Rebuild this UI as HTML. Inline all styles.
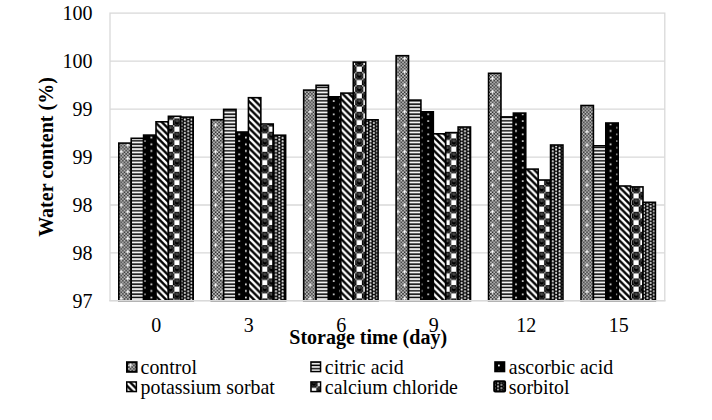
<!DOCTYPE html>
<html><head><meta charset="utf-8"><style>
html,body{margin:0;padding:0;background:#fff;}
body{width:712px;height:420px;overflow:hidden;}
svg{display:block;}
text{font-family:"Liberation Serif", serif;fill:#000;}
</style></head><body>
<svg width="712" height="420" viewBox="0 0 712 420">
<defs>

<pattern id="p1_0" patternUnits="userSpaceOnUse" width="13.3334" height="13.3334" x="-1.300" y="-0.200"><rect x="0.000" y="0.000" width="13.333" height="13.333" fill="#d8d8d8"/><rect x="0.000" y="0.000" width="1.667" height="1.667" fill="#222"/><rect x="3.333" y="0.000" width="1.667" height="1.667" fill="#222"/><rect x="6.667" y="0.000" width="1.667" height="1.667" fill="#222"/><rect x="10.000" y="0.000" width="1.667" height="1.667" fill="#222"/><rect x="1.667" y="1.667" width="1.667" height="1.667" fill="#222"/><rect x="5.000" y="1.667" width="1.667" height="1.667" fill="#222"/><rect x="8.333" y="1.667" width="1.667" height="1.667" fill="#222"/><rect x="11.667" y="1.667" width="1.667" height="1.667" fill="#222"/><rect x="0.000" y="3.333" width="1.667" height="1.667" fill="#222"/><rect x="3.333" y="3.333" width="1.667" height="1.667" fill="#222"/><rect x="6.667" y="3.333" width="1.667" height="1.667" fill="#222"/><rect x="10.000" y="3.333" width="1.667" height="1.667" fill="#222"/><rect x="1.667" y="5.000" width="1.667" height="1.667" fill="#222"/><rect x="5.000" y="5.000" width="1.667" height="1.667" fill="#222"/><rect x="8.333" y="5.000" width="1.667" height="1.667" fill="#222"/><rect x="11.667" y="5.000" width="1.667" height="1.667" fill="#222"/><rect x="0.000" y="6.667" width="1.667" height="1.667" fill="#222"/><rect x="3.333" y="6.667" width="1.667" height="1.667" fill="#222"/><rect x="6.667" y="6.667" width="1.667" height="1.667" fill="#222"/><rect x="10.000" y="6.667" width="1.667" height="1.667" fill="#222"/><rect x="1.667" y="8.333" width="1.667" height="1.667" fill="#222"/><rect x="5.000" y="8.333" width="1.667" height="1.667" fill="#222"/><rect x="8.333" y="8.333" width="1.667" height="1.667" fill="#222"/><rect x="11.667" y="8.333" width="1.667" height="1.667" fill="#222"/><rect x="0.000" y="10.000" width="1.667" height="1.667" fill="#222"/><rect x="3.333" y="10.000" width="1.667" height="1.667" fill="#222"/><rect x="6.667" y="10.000" width="1.667" height="1.667" fill="#222"/><rect x="10.000" y="10.000" width="1.667" height="1.667" fill="#222"/><rect x="1.667" y="11.667" width="1.667" height="1.667" fill="#222"/><rect x="5.000" y="11.667" width="1.667" height="1.667" fill="#222"/><rect x="8.333" y="11.667" width="1.667" height="1.667" fill="#222"/><rect x="11.667" y="11.667" width="1.667" height="1.667" fill="#222"/><rect x="2.000" y="3.300" width="1.000" height="3.400" fill="#fff"/><rect x="0.800" y="4.500" width="3.400" height="1.000" fill="#fff"/><rect x="2.000" y="-10.033" width="1.000" height="3.400" fill="#fff"/><rect x="0.800" y="-8.833" width="3.400" height="1.000" fill="#fff"/><rect x="2.000" y="16.633" width="1.000" height="3.400" fill="#fff"/><rect x="0.800" y="17.833" width="3.400" height="1.000" fill="#fff"/><rect x="-11.333" y="3.300" width="1.000" height="3.400" fill="#fff"/><rect x="-12.533" y="4.500" width="3.400" height="1.000" fill="#fff"/><rect x="-11.333" y="-10.033" width="1.000" height="3.400" fill="#fff"/><rect x="-12.533" y="-8.833" width="3.400" height="1.000" fill="#fff"/><rect x="-11.333" y="16.633" width="1.000" height="3.400" fill="#fff"/><rect x="-12.533" y="17.833" width="3.400" height="1.000" fill="#fff"/><rect x="15.333" y="3.300" width="1.000" height="3.400" fill="#fff"/><rect x="14.133" y="4.500" width="3.400" height="1.000" fill="#fff"/><rect x="15.333" y="-10.033" width="1.000" height="3.400" fill="#fff"/><rect x="14.133" y="-8.833" width="3.400" height="1.000" fill="#fff"/><rect x="15.333" y="16.633" width="1.000" height="3.400" fill="#fff"/><rect x="14.133" y="17.833" width="3.400" height="1.000" fill="#fff"/><rect x="8.667" y="9.967" width="1.000" height="3.400" fill="#fff"/><rect x="7.467" y="11.167" width="3.400" height="1.000" fill="#fff"/><rect x="8.667" y="-3.367" width="1.000" height="3.400" fill="#fff"/><rect x="7.467" y="-2.167" width="3.400" height="1.000" fill="#fff"/><rect x="8.667" y="23.300" width="1.000" height="3.400" fill="#fff"/><rect x="7.467" y="24.500" width="3.400" height="1.000" fill="#fff"/><rect x="-4.667" y="9.967" width="1.000" height="3.400" fill="#fff"/><rect x="-5.867" y="11.167" width="3.400" height="1.000" fill="#fff"/><rect x="-4.667" y="-3.367" width="1.000" height="3.400" fill="#fff"/><rect x="-5.867" y="-2.167" width="3.400" height="1.000" fill="#fff"/><rect x="-4.667" y="23.300" width="1.000" height="3.400" fill="#fff"/><rect x="-5.867" y="24.500" width="3.400" height="1.000" fill="#fff"/><rect x="22.000" y="9.967" width="1.000" height="3.400" fill="#fff"/><rect x="20.800" y="11.167" width="3.400" height="1.000" fill="#fff"/><rect x="22.000" y="-3.367" width="1.000" height="3.400" fill="#fff"/><rect x="20.800" y="-2.167" width="3.400" height="1.000" fill="#fff"/><rect x="22.000" y="23.300" width="1.000" height="3.400" fill="#fff"/><rect x="20.800" y="24.500" width="3.400" height="1.000" fill="#fff"/></pattern>
<pattern id="p5_0" patternUnits="userSpaceOnUse" width="13.3334" height="13.3334" x="0.500" y="-0.6"><rect x="0.000" y="0.000" width="13.333" height="13.333" fill="#000"/><rect x="0.383" y="7.150" width="5.300" height="5.300" fill="#fff"/><rect x="7.050" y="0.483" width="5.300" height="5.300" fill="#fff"/><circle cx="-0.150" cy="6.567" r="0.75" fill="#eee"/><circle cx="6.517" cy="6.567" r="0.75" fill="#eee"/><circle cx="-0.150" cy="13.233" r="0.75" fill="#eee"/><circle cx="6.517" cy="13.233" r="0.75" fill="#eee"/><circle cx="13.183" cy="6.567" r="0.75" fill="#eee"/><circle cx="13.183" cy="13.233" r="0.75" fill="#eee"/><circle cx="6.517" cy="-0.100" r="0.75" fill="#eee"/><circle cx="13.183" cy="-0.100" r="0.75" fill="#eee"/><circle cx="-0.150" cy="-0.100" r="0.75" fill="#eee"/><circle cx="3.133" cy="3.133" r="2.75" fill="none" stroke="#8a8a8a" stroke-width="0.5"/><rect x="2.033" y="1.433" width="2.400" height="0.900" fill="#aaa" rx="0.45"/><circle cx="9.800" cy="9.800" r="2.75" fill="none" stroke="#8a8a8a" stroke-width="0.5"/><rect x="8.700" y="8.100" width="2.400" height="0.900" fill="#aaa" rx="0.45"/></pattern>
<pattern id="p2_0" patternUnits="userSpaceOnUse" width="13.3333" height="3.33333" y="0.6">
<rect width="13.3333" height="3.33333" fill="#000"/>
<rect y="1.0" width="13.3333" height="1.8" fill="#fff"/>
</pattern>
<pattern id="p3_0" patternUnits="userSpaceOnUse" width="13.3333" height="6.66667" x="0.000">
<rect width="13.3333" height="6.66667" fill="#000"/>
<rect x="10.52" y="0.12" width="1.7" height="1.7" rx="0.6" fill="#fff"/>
<rect x="3.85" y="3.45" width="1.7" height="1.7" rx="0.6" fill="#fff"/>
</pattern>
<pattern id="p4_0" patternUnits="userSpaceOnUse" width="6.66667" height="6.66667" x="3.100">
<rect width="6.66667" height="6.66667" fill="#000"/>
<path d="M-2,-2 L8.67,8.67 M-8.67,-2 L2,8.67 M4.67,-2 L15.33,8.67" stroke="#fff" stroke-width="2.36"/>
</pattern>
<pattern id="p6_0" patternUnits="userSpaceOnUse" width="6.66667" height="3.33333" x="0.000">
<rect width="6.66667" height="3.33333" fill="#000"/>
<rect x="0.5" y="0.3" width="2.0" height="2.0" rx="0.7" fill="#f0f0f0"/>
<rect x="3.83" y="-1.37" width="2.0" height="2.0" rx="0.7" fill="#f0f0f0"/>
<rect x="3.83" y="1.97" width="2.0" height="2.0" rx="0.7" fill="#f0f0f0"/>
</pattern>
<pattern id="p1_1" patternUnits="userSpaceOnUse" width="13.3334" height="13.3334" x="-0.130" y="-0.200"><rect x="0.000" y="0.000" width="13.333" height="13.333" fill="#d8d8d8"/><rect x="0.000" y="0.000" width="1.667" height="1.667" fill="#222"/><rect x="3.333" y="0.000" width="1.667" height="1.667" fill="#222"/><rect x="6.667" y="0.000" width="1.667" height="1.667" fill="#222"/><rect x="10.000" y="0.000" width="1.667" height="1.667" fill="#222"/><rect x="1.667" y="1.667" width="1.667" height="1.667" fill="#222"/><rect x="5.000" y="1.667" width="1.667" height="1.667" fill="#222"/><rect x="8.333" y="1.667" width="1.667" height="1.667" fill="#222"/><rect x="11.667" y="1.667" width="1.667" height="1.667" fill="#222"/><rect x="0.000" y="3.333" width="1.667" height="1.667" fill="#222"/><rect x="3.333" y="3.333" width="1.667" height="1.667" fill="#222"/><rect x="6.667" y="3.333" width="1.667" height="1.667" fill="#222"/><rect x="10.000" y="3.333" width="1.667" height="1.667" fill="#222"/><rect x="1.667" y="5.000" width="1.667" height="1.667" fill="#222"/><rect x="5.000" y="5.000" width="1.667" height="1.667" fill="#222"/><rect x="8.333" y="5.000" width="1.667" height="1.667" fill="#222"/><rect x="11.667" y="5.000" width="1.667" height="1.667" fill="#222"/><rect x="0.000" y="6.667" width="1.667" height="1.667" fill="#222"/><rect x="3.333" y="6.667" width="1.667" height="1.667" fill="#222"/><rect x="6.667" y="6.667" width="1.667" height="1.667" fill="#222"/><rect x="10.000" y="6.667" width="1.667" height="1.667" fill="#222"/><rect x="1.667" y="8.333" width="1.667" height="1.667" fill="#222"/><rect x="5.000" y="8.333" width="1.667" height="1.667" fill="#222"/><rect x="8.333" y="8.333" width="1.667" height="1.667" fill="#222"/><rect x="11.667" y="8.333" width="1.667" height="1.667" fill="#222"/><rect x="0.000" y="10.000" width="1.667" height="1.667" fill="#222"/><rect x="3.333" y="10.000" width="1.667" height="1.667" fill="#222"/><rect x="6.667" y="10.000" width="1.667" height="1.667" fill="#222"/><rect x="10.000" y="10.000" width="1.667" height="1.667" fill="#222"/><rect x="1.667" y="11.667" width="1.667" height="1.667" fill="#222"/><rect x="5.000" y="11.667" width="1.667" height="1.667" fill="#222"/><rect x="8.333" y="11.667" width="1.667" height="1.667" fill="#222"/><rect x="11.667" y="11.667" width="1.667" height="1.667" fill="#222"/><rect x="2.000" y="3.300" width="1.000" height="3.400" fill="#fff"/><rect x="0.800" y="4.500" width="3.400" height="1.000" fill="#fff"/><rect x="2.000" y="-10.033" width="1.000" height="3.400" fill="#fff"/><rect x="0.800" y="-8.833" width="3.400" height="1.000" fill="#fff"/><rect x="2.000" y="16.633" width="1.000" height="3.400" fill="#fff"/><rect x="0.800" y="17.833" width="3.400" height="1.000" fill="#fff"/><rect x="-11.333" y="3.300" width="1.000" height="3.400" fill="#fff"/><rect x="-12.533" y="4.500" width="3.400" height="1.000" fill="#fff"/><rect x="-11.333" y="-10.033" width="1.000" height="3.400" fill="#fff"/><rect x="-12.533" y="-8.833" width="3.400" height="1.000" fill="#fff"/><rect x="-11.333" y="16.633" width="1.000" height="3.400" fill="#fff"/><rect x="-12.533" y="17.833" width="3.400" height="1.000" fill="#fff"/><rect x="15.333" y="3.300" width="1.000" height="3.400" fill="#fff"/><rect x="14.133" y="4.500" width="3.400" height="1.000" fill="#fff"/><rect x="15.333" y="-10.033" width="1.000" height="3.400" fill="#fff"/><rect x="14.133" y="-8.833" width="3.400" height="1.000" fill="#fff"/><rect x="15.333" y="16.633" width="1.000" height="3.400" fill="#fff"/><rect x="14.133" y="17.833" width="3.400" height="1.000" fill="#fff"/><rect x="8.667" y="9.967" width="1.000" height="3.400" fill="#fff"/><rect x="7.467" y="11.167" width="3.400" height="1.000" fill="#fff"/><rect x="8.667" y="-3.367" width="1.000" height="3.400" fill="#fff"/><rect x="7.467" y="-2.167" width="3.400" height="1.000" fill="#fff"/><rect x="8.667" y="23.300" width="1.000" height="3.400" fill="#fff"/><rect x="7.467" y="24.500" width="3.400" height="1.000" fill="#fff"/><rect x="-4.667" y="9.967" width="1.000" height="3.400" fill="#fff"/><rect x="-5.867" y="11.167" width="3.400" height="1.000" fill="#fff"/><rect x="-4.667" y="-3.367" width="1.000" height="3.400" fill="#fff"/><rect x="-5.867" y="-2.167" width="3.400" height="1.000" fill="#fff"/><rect x="-4.667" y="23.300" width="1.000" height="3.400" fill="#fff"/><rect x="-5.867" y="24.500" width="3.400" height="1.000" fill="#fff"/><rect x="22.000" y="9.967" width="1.000" height="3.400" fill="#fff"/><rect x="20.800" y="11.167" width="3.400" height="1.000" fill="#fff"/><rect x="22.000" y="-3.367" width="1.000" height="3.400" fill="#fff"/><rect x="20.800" y="-2.167" width="3.400" height="1.000" fill="#fff"/><rect x="22.000" y="23.300" width="1.000" height="3.400" fill="#fff"/><rect x="20.800" y="24.500" width="3.400" height="1.000" fill="#fff"/></pattern>
<pattern id="p5_1" patternUnits="userSpaceOnUse" width="13.3334" height="13.3334" x="1.670" y="-0.6"><rect x="0.000" y="0.000" width="13.333" height="13.333" fill="#000"/><rect x="0.383" y="7.150" width="5.300" height="5.300" fill="#fff"/><rect x="7.050" y="0.483" width="5.300" height="5.300" fill="#fff"/><circle cx="-0.150" cy="6.567" r="0.75" fill="#eee"/><circle cx="6.517" cy="6.567" r="0.75" fill="#eee"/><circle cx="-0.150" cy="13.233" r="0.75" fill="#eee"/><circle cx="6.517" cy="13.233" r="0.75" fill="#eee"/><circle cx="13.183" cy="6.567" r="0.75" fill="#eee"/><circle cx="13.183" cy="13.233" r="0.75" fill="#eee"/><circle cx="6.517" cy="-0.100" r="0.75" fill="#eee"/><circle cx="13.183" cy="-0.100" r="0.75" fill="#eee"/><circle cx="-0.150" cy="-0.100" r="0.75" fill="#eee"/><circle cx="3.133" cy="3.133" r="2.75" fill="none" stroke="#8a8a8a" stroke-width="0.5"/><rect x="2.033" y="1.433" width="2.400" height="0.900" fill="#aaa" rx="0.45"/><circle cx="9.800" cy="9.800" r="2.75" fill="none" stroke="#8a8a8a" stroke-width="0.5"/><rect x="8.700" y="8.100" width="2.400" height="0.900" fill="#aaa" rx="0.45"/></pattern>
<pattern id="p2_1" patternUnits="userSpaceOnUse" width="13.3333" height="3.33333" y="0.6">
<rect width="13.3333" height="3.33333" fill="#000"/>
<rect y="1.0" width="13.3333" height="1.8" fill="#fff"/>
</pattern>
<pattern id="p3_1" patternUnits="userSpaceOnUse" width="13.3333" height="6.66667" x="1.170">
<rect width="13.3333" height="6.66667" fill="#000"/>
<rect x="10.52" y="0.12" width="1.7" height="1.7" rx="0.6" fill="#fff"/>
<rect x="3.85" y="3.45" width="1.7" height="1.7" rx="0.6" fill="#fff"/>
</pattern>
<pattern id="p4_1" patternUnits="userSpaceOnUse" width="6.66667" height="6.66667" x="4.270">
<rect width="6.66667" height="6.66667" fill="#000"/>
<path d="M-2,-2 L8.67,8.67 M-8.67,-2 L2,8.67 M4.67,-2 L15.33,8.67" stroke="#fff" stroke-width="2.36"/>
</pattern>
<pattern id="p6_1" patternUnits="userSpaceOnUse" width="6.66667" height="3.33333" x="1.170">
<rect width="6.66667" height="3.33333" fill="#000"/>
<rect x="0.5" y="0.3" width="2.0" height="2.0" rx="0.7" fill="#f0f0f0"/>
<rect x="3.83" y="-1.37" width="2.0" height="2.0" rx="0.7" fill="#f0f0f0"/>
<rect x="3.83" y="1.97" width="2.0" height="2.0" rx="0.7" fill="#f0f0f0"/>
</pattern>
<pattern id="p1_2" patternUnits="userSpaceOnUse" width="13.3334" height="13.3334" x="1.040" y="-0.200"><rect x="0.000" y="0.000" width="13.333" height="13.333" fill="#d8d8d8"/><rect x="0.000" y="0.000" width="1.667" height="1.667" fill="#222"/><rect x="3.333" y="0.000" width="1.667" height="1.667" fill="#222"/><rect x="6.667" y="0.000" width="1.667" height="1.667" fill="#222"/><rect x="10.000" y="0.000" width="1.667" height="1.667" fill="#222"/><rect x="1.667" y="1.667" width="1.667" height="1.667" fill="#222"/><rect x="5.000" y="1.667" width="1.667" height="1.667" fill="#222"/><rect x="8.333" y="1.667" width="1.667" height="1.667" fill="#222"/><rect x="11.667" y="1.667" width="1.667" height="1.667" fill="#222"/><rect x="0.000" y="3.333" width="1.667" height="1.667" fill="#222"/><rect x="3.333" y="3.333" width="1.667" height="1.667" fill="#222"/><rect x="6.667" y="3.333" width="1.667" height="1.667" fill="#222"/><rect x="10.000" y="3.333" width="1.667" height="1.667" fill="#222"/><rect x="1.667" y="5.000" width="1.667" height="1.667" fill="#222"/><rect x="5.000" y="5.000" width="1.667" height="1.667" fill="#222"/><rect x="8.333" y="5.000" width="1.667" height="1.667" fill="#222"/><rect x="11.667" y="5.000" width="1.667" height="1.667" fill="#222"/><rect x="0.000" y="6.667" width="1.667" height="1.667" fill="#222"/><rect x="3.333" y="6.667" width="1.667" height="1.667" fill="#222"/><rect x="6.667" y="6.667" width="1.667" height="1.667" fill="#222"/><rect x="10.000" y="6.667" width="1.667" height="1.667" fill="#222"/><rect x="1.667" y="8.333" width="1.667" height="1.667" fill="#222"/><rect x="5.000" y="8.333" width="1.667" height="1.667" fill="#222"/><rect x="8.333" y="8.333" width="1.667" height="1.667" fill="#222"/><rect x="11.667" y="8.333" width="1.667" height="1.667" fill="#222"/><rect x="0.000" y="10.000" width="1.667" height="1.667" fill="#222"/><rect x="3.333" y="10.000" width="1.667" height="1.667" fill="#222"/><rect x="6.667" y="10.000" width="1.667" height="1.667" fill="#222"/><rect x="10.000" y="10.000" width="1.667" height="1.667" fill="#222"/><rect x="1.667" y="11.667" width="1.667" height="1.667" fill="#222"/><rect x="5.000" y="11.667" width="1.667" height="1.667" fill="#222"/><rect x="8.333" y="11.667" width="1.667" height="1.667" fill="#222"/><rect x="11.667" y="11.667" width="1.667" height="1.667" fill="#222"/><rect x="2.000" y="3.300" width="1.000" height="3.400" fill="#fff"/><rect x="0.800" y="4.500" width="3.400" height="1.000" fill="#fff"/><rect x="2.000" y="-10.033" width="1.000" height="3.400" fill="#fff"/><rect x="0.800" y="-8.833" width="3.400" height="1.000" fill="#fff"/><rect x="2.000" y="16.633" width="1.000" height="3.400" fill="#fff"/><rect x="0.800" y="17.833" width="3.400" height="1.000" fill="#fff"/><rect x="-11.333" y="3.300" width="1.000" height="3.400" fill="#fff"/><rect x="-12.533" y="4.500" width="3.400" height="1.000" fill="#fff"/><rect x="-11.333" y="-10.033" width="1.000" height="3.400" fill="#fff"/><rect x="-12.533" y="-8.833" width="3.400" height="1.000" fill="#fff"/><rect x="-11.333" y="16.633" width="1.000" height="3.400" fill="#fff"/><rect x="-12.533" y="17.833" width="3.400" height="1.000" fill="#fff"/><rect x="15.333" y="3.300" width="1.000" height="3.400" fill="#fff"/><rect x="14.133" y="4.500" width="3.400" height="1.000" fill="#fff"/><rect x="15.333" y="-10.033" width="1.000" height="3.400" fill="#fff"/><rect x="14.133" y="-8.833" width="3.400" height="1.000" fill="#fff"/><rect x="15.333" y="16.633" width="1.000" height="3.400" fill="#fff"/><rect x="14.133" y="17.833" width="3.400" height="1.000" fill="#fff"/><rect x="8.667" y="9.967" width="1.000" height="3.400" fill="#fff"/><rect x="7.467" y="11.167" width="3.400" height="1.000" fill="#fff"/><rect x="8.667" y="-3.367" width="1.000" height="3.400" fill="#fff"/><rect x="7.467" y="-2.167" width="3.400" height="1.000" fill="#fff"/><rect x="8.667" y="23.300" width="1.000" height="3.400" fill="#fff"/><rect x="7.467" y="24.500" width="3.400" height="1.000" fill="#fff"/><rect x="-4.667" y="9.967" width="1.000" height="3.400" fill="#fff"/><rect x="-5.867" y="11.167" width="3.400" height="1.000" fill="#fff"/><rect x="-4.667" y="-3.367" width="1.000" height="3.400" fill="#fff"/><rect x="-5.867" y="-2.167" width="3.400" height="1.000" fill="#fff"/><rect x="-4.667" y="23.300" width="1.000" height="3.400" fill="#fff"/><rect x="-5.867" y="24.500" width="3.400" height="1.000" fill="#fff"/><rect x="22.000" y="9.967" width="1.000" height="3.400" fill="#fff"/><rect x="20.800" y="11.167" width="3.400" height="1.000" fill="#fff"/><rect x="22.000" y="-3.367" width="1.000" height="3.400" fill="#fff"/><rect x="20.800" y="-2.167" width="3.400" height="1.000" fill="#fff"/><rect x="22.000" y="23.300" width="1.000" height="3.400" fill="#fff"/><rect x="20.800" y="24.500" width="3.400" height="1.000" fill="#fff"/></pattern>
<pattern id="p5_2" patternUnits="userSpaceOnUse" width="13.3334" height="13.3334" x="2.840" y="-0.6"><rect x="0.000" y="0.000" width="13.333" height="13.333" fill="#000"/><rect x="0.383" y="7.150" width="5.300" height="5.300" fill="#fff"/><rect x="7.050" y="0.483" width="5.300" height="5.300" fill="#fff"/><circle cx="-0.150" cy="6.567" r="0.75" fill="#eee"/><circle cx="6.517" cy="6.567" r="0.75" fill="#eee"/><circle cx="-0.150" cy="13.233" r="0.75" fill="#eee"/><circle cx="6.517" cy="13.233" r="0.75" fill="#eee"/><circle cx="13.183" cy="6.567" r="0.75" fill="#eee"/><circle cx="13.183" cy="13.233" r="0.75" fill="#eee"/><circle cx="6.517" cy="-0.100" r="0.75" fill="#eee"/><circle cx="13.183" cy="-0.100" r="0.75" fill="#eee"/><circle cx="-0.150" cy="-0.100" r="0.75" fill="#eee"/><circle cx="3.133" cy="3.133" r="2.75" fill="none" stroke="#8a8a8a" stroke-width="0.5"/><rect x="2.033" y="1.433" width="2.400" height="0.900" fill="#aaa" rx="0.45"/><circle cx="9.800" cy="9.800" r="2.75" fill="none" stroke="#8a8a8a" stroke-width="0.5"/><rect x="8.700" y="8.100" width="2.400" height="0.900" fill="#aaa" rx="0.45"/></pattern>
<pattern id="p2_2" patternUnits="userSpaceOnUse" width="13.3333" height="3.33333" y="0.6">
<rect width="13.3333" height="3.33333" fill="#000"/>
<rect y="1.0" width="13.3333" height="1.8" fill="#fff"/>
</pattern>
<pattern id="p3_2" patternUnits="userSpaceOnUse" width="13.3333" height="6.66667" x="2.340">
<rect width="13.3333" height="6.66667" fill="#000"/>
<rect x="10.52" y="0.12" width="1.7" height="1.7" rx="0.6" fill="#fff"/>
<rect x="3.85" y="3.45" width="1.7" height="1.7" rx="0.6" fill="#fff"/>
</pattern>
<pattern id="p4_2" patternUnits="userSpaceOnUse" width="6.66667" height="6.66667" x="5.440">
<rect width="6.66667" height="6.66667" fill="#000"/>
<path d="M-2,-2 L8.67,8.67 M-8.67,-2 L2,8.67 M4.67,-2 L15.33,8.67" stroke="#fff" stroke-width="2.36"/>
</pattern>
<pattern id="p6_2" patternUnits="userSpaceOnUse" width="6.66667" height="3.33333" x="2.340">
<rect width="6.66667" height="3.33333" fill="#000"/>
<rect x="0.5" y="0.3" width="2.0" height="2.0" rx="0.7" fill="#f0f0f0"/>
<rect x="3.83" y="-1.37" width="2.0" height="2.0" rx="0.7" fill="#f0f0f0"/>
<rect x="3.83" y="1.97" width="2.0" height="2.0" rx="0.7" fill="#f0f0f0"/>
</pattern>
<pattern id="p1_3" patternUnits="userSpaceOnUse" width="13.3334" height="13.3334" x="2.210" y="-0.200"><rect x="0.000" y="0.000" width="13.333" height="13.333" fill="#d8d8d8"/><rect x="0.000" y="0.000" width="1.667" height="1.667" fill="#222"/><rect x="3.333" y="0.000" width="1.667" height="1.667" fill="#222"/><rect x="6.667" y="0.000" width="1.667" height="1.667" fill="#222"/><rect x="10.000" y="0.000" width="1.667" height="1.667" fill="#222"/><rect x="1.667" y="1.667" width="1.667" height="1.667" fill="#222"/><rect x="5.000" y="1.667" width="1.667" height="1.667" fill="#222"/><rect x="8.333" y="1.667" width="1.667" height="1.667" fill="#222"/><rect x="11.667" y="1.667" width="1.667" height="1.667" fill="#222"/><rect x="0.000" y="3.333" width="1.667" height="1.667" fill="#222"/><rect x="3.333" y="3.333" width="1.667" height="1.667" fill="#222"/><rect x="6.667" y="3.333" width="1.667" height="1.667" fill="#222"/><rect x="10.000" y="3.333" width="1.667" height="1.667" fill="#222"/><rect x="1.667" y="5.000" width="1.667" height="1.667" fill="#222"/><rect x="5.000" y="5.000" width="1.667" height="1.667" fill="#222"/><rect x="8.333" y="5.000" width="1.667" height="1.667" fill="#222"/><rect x="11.667" y="5.000" width="1.667" height="1.667" fill="#222"/><rect x="0.000" y="6.667" width="1.667" height="1.667" fill="#222"/><rect x="3.333" y="6.667" width="1.667" height="1.667" fill="#222"/><rect x="6.667" y="6.667" width="1.667" height="1.667" fill="#222"/><rect x="10.000" y="6.667" width="1.667" height="1.667" fill="#222"/><rect x="1.667" y="8.333" width="1.667" height="1.667" fill="#222"/><rect x="5.000" y="8.333" width="1.667" height="1.667" fill="#222"/><rect x="8.333" y="8.333" width="1.667" height="1.667" fill="#222"/><rect x="11.667" y="8.333" width="1.667" height="1.667" fill="#222"/><rect x="0.000" y="10.000" width="1.667" height="1.667" fill="#222"/><rect x="3.333" y="10.000" width="1.667" height="1.667" fill="#222"/><rect x="6.667" y="10.000" width="1.667" height="1.667" fill="#222"/><rect x="10.000" y="10.000" width="1.667" height="1.667" fill="#222"/><rect x="1.667" y="11.667" width="1.667" height="1.667" fill="#222"/><rect x="5.000" y="11.667" width="1.667" height="1.667" fill="#222"/><rect x="8.333" y="11.667" width="1.667" height="1.667" fill="#222"/><rect x="11.667" y="11.667" width="1.667" height="1.667" fill="#222"/><rect x="2.000" y="3.300" width="1.000" height="3.400" fill="#fff"/><rect x="0.800" y="4.500" width="3.400" height="1.000" fill="#fff"/><rect x="2.000" y="-10.033" width="1.000" height="3.400" fill="#fff"/><rect x="0.800" y="-8.833" width="3.400" height="1.000" fill="#fff"/><rect x="2.000" y="16.633" width="1.000" height="3.400" fill="#fff"/><rect x="0.800" y="17.833" width="3.400" height="1.000" fill="#fff"/><rect x="-11.333" y="3.300" width="1.000" height="3.400" fill="#fff"/><rect x="-12.533" y="4.500" width="3.400" height="1.000" fill="#fff"/><rect x="-11.333" y="-10.033" width="1.000" height="3.400" fill="#fff"/><rect x="-12.533" y="-8.833" width="3.400" height="1.000" fill="#fff"/><rect x="-11.333" y="16.633" width="1.000" height="3.400" fill="#fff"/><rect x="-12.533" y="17.833" width="3.400" height="1.000" fill="#fff"/><rect x="15.333" y="3.300" width="1.000" height="3.400" fill="#fff"/><rect x="14.133" y="4.500" width="3.400" height="1.000" fill="#fff"/><rect x="15.333" y="-10.033" width="1.000" height="3.400" fill="#fff"/><rect x="14.133" y="-8.833" width="3.400" height="1.000" fill="#fff"/><rect x="15.333" y="16.633" width="1.000" height="3.400" fill="#fff"/><rect x="14.133" y="17.833" width="3.400" height="1.000" fill="#fff"/><rect x="8.667" y="9.967" width="1.000" height="3.400" fill="#fff"/><rect x="7.467" y="11.167" width="3.400" height="1.000" fill="#fff"/><rect x="8.667" y="-3.367" width="1.000" height="3.400" fill="#fff"/><rect x="7.467" y="-2.167" width="3.400" height="1.000" fill="#fff"/><rect x="8.667" y="23.300" width="1.000" height="3.400" fill="#fff"/><rect x="7.467" y="24.500" width="3.400" height="1.000" fill="#fff"/><rect x="-4.667" y="9.967" width="1.000" height="3.400" fill="#fff"/><rect x="-5.867" y="11.167" width="3.400" height="1.000" fill="#fff"/><rect x="-4.667" y="-3.367" width="1.000" height="3.400" fill="#fff"/><rect x="-5.867" y="-2.167" width="3.400" height="1.000" fill="#fff"/><rect x="-4.667" y="23.300" width="1.000" height="3.400" fill="#fff"/><rect x="-5.867" y="24.500" width="3.400" height="1.000" fill="#fff"/><rect x="22.000" y="9.967" width="1.000" height="3.400" fill="#fff"/><rect x="20.800" y="11.167" width="3.400" height="1.000" fill="#fff"/><rect x="22.000" y="-3.367" width="1.000" height="3.400" fill="#fff"/><rect x="20.800" y="-2.167" width="3.400" height="1.000" fill="#fff"/><rect x="22.000" y="23.300" width="1.000" height="3.400" fill="#fff"/><rect x="20.800" y="24.500" width="3.400" height="1.000" fill="#fff"/></pattern>
<pattern id="p5_3" patternUnits="userSpaceOnUse" width="13.3334" height="13.3334" x="4.010" y="-0.6"><rect x="0.000" y="0.000" width="13.333" height="13.333" fill="#000"/><rect x="0.383" y="7.150" width="5.300" height="5.300" fill="#fff"/><rect x="7.050" y="0.483" width="5.300" height="5.300" fill="#fff"/><circle cx="-0.150" cy="6.567" r="0.75" fill="#eee"/><circle cx="6.517" cy="6.567" r="0.75" fill="#eee"/><circle cx="-0.150" cy="13.233" r="0.75" fill="#eee"/><circle cx="6.517" cy="13.233" r="0.75" fill="#eee"/><circle cx="13.183" cy="6.567" r="0.75" fill="#eee"/><circle cx="13.183" cy="13.233" r="0.75" fill="#eee"/><circle cx="6.517" cy="-0.100" r="0.75" fill="#eee"/><circle cx="13.183" cy="-0.100" r="0.75" fill="#eee"/><circle cx="-0.150" cy="-0.100" r="0.75" fill="#eee"/><circle cx="3.133" cy="3.133" r="2.75" fill="none" stroke="#8a8a8a" stroke-width="0.5"/><rect x="2.033" y="1.433" width="2.400" height="0.900" fill="#aaa" rx="0.45"/><circle cx="9.800" cy="9.800" r="2.75" fill="none" stroke="#8a8a8a" stroke-width="0.5"/><rect x="8.700" y="8.100" width="2.400" height="0.900" fill="#aaa" rx="0.45"/></pattern>
<pattern id="p2_3" patternUnits="userSpaceOnUse" width="13.3333" height="3.33333" y="0.6">
<rect width="13.3333" height="3.33333" fill="#000"/>
<rect y="1.0" width="13.3333" height="1.8" fill="#fff"/>
</pattern>
<pattern id="p3_3" patternUnits="userSpaceOnUse" width="13.3333" height="6.66667" x="3.510">
<rect width="13.3333" height="6.66667" fill="#000"/>
<rect x="10.52" y="0.12" width="1.7" height="1.7" rx="0.6" fill="#fff"/>
<rect x="3.85" y="3.45" width="1.7" height="1.7" rx="0.6" fill="#fff"/>
</pattern>
<pattern id="p4_3" patternUnits="userSpaceOnUse" width="6.66667" height="6.66667" x="6.610">
<rect width="6.66667" height="6.66667" fill="#000"/>
<path d="M-2,-2 L8.67,8.67 M-8.67,-2 L2,8.67 M4.67,-2 L15.33,8.67" stroke="#fff" stroke-width="2.36"/>
</pattern>
<pattern id="p6_3" patternUnits="userSpaceOnUse" width="6.66667" height="3.33333" x="3.510">
<rect width="6.66667" height="3.33333" fill="#000"/>
<rect x="0.5" y="0.3" width="2.0" height="2.0" rx="0.7" fill="#f0f0f0"/>
<rect x="3.83" y="-1.37" width="2.0" height="2.0" rx="0.7" fill="#f0f0f0"/>
<rect x="3.83" y="1.97" width="2.0" height="2.0" rx="0.7" fill="#f0f0f0"/>
</pattern>
<pattern id="p1_4" patternUnits="userSpaceOnUse" width="13.3334" height="13.3334" x="3.380" y="-0.200"><rect x="0.000" y="0.000" width="13.333" height="13.333" fill="#d8d8d8"/><rect x="0.000" y="0.000" width="1.667" height="1.667" fill="#222"/><rect x="3.333" y="0.000" width="1.667" height="1.667" fill="#222"/><rect x="6.667" y="0.000" width="1.667" height="1.667" fill="#222"/><rect x="10.000" y="0.000" width="1.667" height="1.667" fill="#222"/><rect x="1.667" y="1.667" width="1.667" height="1.667" fill="#222"/><rect x="5.000" y="1.667" width="1.667" height="1.667" fill="#222"/><rect x="8.333" y="1.667" width="1.667" height="1.667" fill="#222"/><rect x="11.667" y="1.667" width="1.667" height="1.667" fill="#222"/><rect x="0.000" y="3.333" width="1.667" height="1.667" fill="#222"/><rect x="3.333" y="3.333" width="1.667" height="1.667" fill="#222"/><rect x="6.667" y="3.333" width="1.667" height="1.667" fill="#222"/><rect x="10.000" y="3.333" width="1.667" height="1.667" fill="#222"/><rect x="1.667" y="5.000" width="1.667" height="1.667" fill="#222"/><rect x="5.000" y="5.000" width="1.667" height="1.667" fill="#222"/><rect x="8.333" y="5.000" width="1.667" height="1.667" fill="#222"/><rect x="11.667" y="5.000" width="1.667" height="1.667" fill="#222"/><rect x="0.000" y="6.667" width="1.667" height="1.667" fill="#222"/><rect x="3.333" y="6.667" width="1.667" height="1.667" fill="#222"/><rect x="6.667" y="6.667" width="1.667" height="1.667" fill="#222"/><rect x="10.000" y="6.667" width="1.667" height="1.667" fill="#222"/><rect x="1.667" y="8.333" width="1.667" height="1.667" fill="#222"/><rect x="5.000" y="8.333" width="1.667" height="1.667" fill="#222"/><rect x="8.333" y="8.333" width="1.667" height="1.667" fill="#222"/><rect x="11.667" y="8.333" width="1.667" height="1.667" fill="#222"/><rect x="0.000" y="10.000" width="1.667" height="1.667" fill="#222"/><rect x="3.333" y="10.000" width="1.667" height="1.667" fill="#222"/><rect x="6.667" y="10.000" width="1.667" height="1.667" fill="#222"/><rect x="10.000" y="10.000" width="1.667" height="1.667" fill="#222"/><rect x="1.667" y="11.667" width="1.667" height="1.667" fill="#222"/><rect x="5.000" y="11.667" width="1.667" height="1.667" fill="#222"/><rect x="8.333" y="11.667" width="1.667" height="1.667" fill="#222"/><rect x="11.667" y="11.667" width="1.667" height="1.667" fill="#222"/><rect x="2.000" y="3.300" width="1.000" height="3.400" fill="#fff"/><rect x="0.800" y="4.500" width="3.400" height="1.000" fill="#fff"/><rect x="2.000" y="-10.033" width="1.000" height="3.400" fill="#fff"/><rect x="0.800" y="-8.833" width="3.400" height="1.000" fill="#fff"/><rect x="2.000" y="16.633" width="1.000" height="3.400" fill="#fff"/><rect x="0.800" y="17.833" width="3.400" height="1.000" fill="#fff"/><rect x="-11.333" y="3.300" width="1.000" height="3.400" fill="#fff"/><rect x="-12.533" y="4.500" width="3.400" height="1.000" fill="#fff"/><rect x="-11.333" y="-10.033" width="1.000" height="3.400" fill="#fff"/><rect x="-12.533" y="-8.833" width="3.400" height="1.000" fill="#fff"/><rect x="-11.333" y="16.633" width="1.000" height="3.400" fill="#fff"/><rect x="-12.533" y="17.833" width="3.400" height="1.000" fill="#fff"/><rect x="15.333" y="3.300" width="1.000" height="3.400" fill="#fff"/><rect x="14.133" y="4.500" width="3.400" height="1.000" fill="#fff"/><rect x="15.333" y="-10.033" width="1.000" height="3.400" fill="#fff"/><rect x="14.133" y="-8.833" width="3.400" height="1.000" fill="#fff"/><rect x="15.333" y="16.633" width="1.000" height="3.400" fill="#fff"/><rect x="14.133" y="17.833" width="3.400" height="1.000" fill="#fff"/><rect x="8.667" y="9.967" width="1.000" height="3.400" fill="#fff"/><rect x="7.467" y="11.167" width="3.400" height="1.000" fill="#fff"/><rect x="8.667" y="-3.367" width="1.000" height="3.400" fill="#fff"/><rect x="7.467" y="-2.167" width="3.400" height="1.000" fill="#fff"/><rect x="8.667" y="23.300" width="1.000" height="3.400" fill="#fff"/><rect x="7.467" y="24.500" width="3.400" height="1.000" fill="#fff"/><rect x="-4.667" y="9.967" width="1.000" height="3.400" fill="#fff"/><rect x="-5.867" y="11.167" width="3.400" height="1.000" fill="#fff"/><rect x="-4.667" y="-3.367" width="1.000" height="3.400" fill="#fff"/><rect x="-5.867" y="-2.167" width="3.400" height="1.000" fill="#fff"/><rect x="-4.667" y="23.300" width="1.000" height="3.400" fill="#fff"/><rect x="-5.867" y="24.500" width="3.400" height="1.000" fill="#fff"/><rect x="22.000" y="9.967" width="1.000" height="3.400" fill="#fff"/><rect x="20.800" y="11.167" width="3.400" height="1.000" fill="#fff"/><rect x="22.000" y="-3.367" width="1.000" height="3.400" fill="#fff"/><rect x="20.800" y="-2.167" width="3.400" height="1.000" fill="#fff"/><rect x="22.000" y="23.300" width="1.000" height="3.400" fill="#fff"/><rect x="20.800" y="24.500" width="3.400" height="1.000" fill="#fff"/></pattern>
<pattern id="p5_4" patternUnits="userSpaceOnUse" width="13.3334" height="13.3334" x="5.180" y="-0.6"><rect x="0.000" y="0.000" width="13.333" height="13.333" fill="#000"/><rect x="0.383" y="7.150" width="5.300" height="5.300" fill="#fff"/><rect x="7.050" y="0.483" width="5.300" height="5.300" fill="#fff"/><circle cx="-0.150" cy="6.567" r="0.75" fill="#eee"/><circle cx="6.517" cy="6.567" r="0.75" fill="#eee"/><circle cx="-0.150" cy="13.233" r="0.75" fill="#eee"/><circle cx="6.517" cy="13.233" r="0.75" fill="#eee"/><circle cx="13.183" cy="6.567" r="0.75" fill="#eee"/><circle cx="13.183" cy="13.233" r="0.75" fill="#eee"/><circle cx="6.517" cy="-0.100" r="0.75" fill="#eee"/><circle cx="13.183" cy="-0.100" r="0.75" fill="#eee"/><circle cx="-0.150" cy="-0.100" r="0.75" fill="#eee"/><circle cx="3.133" cy="3.133" r="2.75" fill="none" stroke="#8a8a8a" stroke-width="0.5"/><rect x="2.033" y="1.433" width="2.400" height="0.900" fill="#aaa" rx="0.45"/><circle cx="9.800" cy="9.800" r="2.75" fill="none" stroke="#8a8a8a" stroke-width="0.5"/><rect x="8.700" y="8.100" width="2.400" height="0.900" fill="#aaa" rx="0.45"/></pattern>
<pattern id="p2_4" patternUnits="userSpaceOnUse" width="13.3333" height="3.33333" y="0.6">
<rect width="13.3333" height="3.33333" fill="#000"/>
<rect y="1.0" width="13.3333" height="1.8" fill="#fff"/>
</pattern>
<pattern id="p3_4" patternUnits="userSpaceOnUse" width="13.3333" height="6.66667" x="4.680">
<rect width="13.3333" height="6.66667" fill="#000"/>
<rect x="10.52" y="0.12" width="1.7" height="1.7" rx="0.6" fill="#fff"/>
<rect x="3.85" y="3.45" width="1.7" height="1.7" rx="0.6" fill="#fff"/>
</pattern>
<pattern id="p4_4" patternUnits="userSpaceOnUse" width="6.66667" height="6.66667" x="7.780">
<rect width="6.66667" height="6.66667" fill="#000"/>
<path d="M-2,-2 L8.67,8.67 M-8.67,-2 L2,8.67 M4.67,-2 L15.33,8.67" stroke="#fff" stroke-width="2.36"/>
</pattern>
<pattern id="p6_4" patternUnits="userSpaceOnUse" width="6.66667" height="3.33333" x="4.680">
<rect width="6.66667" height="3.33333" fill="#000"/>
<rect x="0.5" y="0.3" width="2.0" height="2.0" rx="0.7" fill="#f0f0f0"/>
<rect x="3.83" y="-1.37" width="2.0" height="2.0" rx="0.7" fill="#f0f0f0"/>
<rect x="3.83" y="1.97" width="2.0" height="2.0" rx="0.7" fill="#f0f0f0"/>
</pattern>
<pattern id="p1_5" patternUnits="userSpaceOnUse" width="13.3334" height="13.3334" x="4.550" y="-0.200"><rect x="0.000" y="0.000" width="13.333" height="13.333" fill="#d8d8d8"/><rect x="0.000" y="0.000" width="1.667" height="1.667" fill="#222"/><rect x="3.333" y="0.000" width="1.667" height="1.667" fill="#222"/><rect x="6.667" y="0.000" width="1.667" height="1.667" fill="#222"/><rect x="10.000" y="0.000" width="1.667" height="1.667" fill="#222"/><rect x="1.667" y="1.667" width="1.667" height="1.667" fill="#222"/><rect x="5.000" y="1.667" width="1.667" height="1.667" fill="#222"/><rect x="8.333" y="1.667" width="1.667" height="1.667" fill="#222"/><rect x="11.667" y="1.667" width="1.667" height="1.667" fill="#222"/><rect x="0.000" y="3.333" width="1.667" height="1.667" fill="#222"/><rect x="3.333" y="3.333" width="1.667" height="1.667" fill="#222"/><rect x="6.667" y="3.333" width="1.667" height="1.667" fill="#222"/><rect x="10.000" y="3.333" width="1.667" height="1.667" fill="#222"/><rect x="1.667" y="5.000" width="1.667" height="1.667" fill="#222"/><rect x="5.000" y="5.000" width="1.667" height="1.667" fill="#222"/><rect x="8.333" y="5.000" width="1.667" height="1.667" fill="#222"/><rect x="11.667" y="5.000" width="1.667" height="1.667" fill="#222"/><rect x="0.000" y="6.667" width="1.667" height="1.667" fill="#222"/><rect x="3.333" y="6.667" width="1.667" height="1.667" fill="#222"/><rect x="6.667" y="6.667" width="1.667" height="1.667" fill="#222"/><rect x="10.000" y="6.667" width="1.667" height="1.667" fill="#222"/><rect x="1.667" y="8.333" width="1.667" height="1.667" fill="#222"/><rect x="5.000" y="8.333" width="1.667" height="1.667" fill="#222"/><rect x="8.333" y="8.333" width="1.667" height="1.667" fill="#222"/><rect x="11.667" y="8.333" width="1.667" height="1.667" fill="#222"/><rect x="0.000" y="10.000" width="1.667" height="1.667" fill="#222"/><rect x="3.333" y="10.000" width="1.667" height="1.667" fill="#222"/><rect x="6.667" y="10.000" width="1.667" height="1.667" fill="#222"/><rect x="10.000" y="10.000" width="1.667" height="1.667" fill="#222"/><rect x="1.667" y="11.667" width="1.667" height="1.667" fill="#222"/><rect x="5.000" y="11.667" width="1.667" height="1.667" fill="#222"/><rect x="8.333" y="11.667" width="1.667" height="1.667" fill="#222"/><rect x="11.667" y="11.667" width="1.667" height="1.667" fill="#222"/><rect x="2.000" y="3.300" width="1.000" height="3.400" fill="#fff"/><rect x="0.800" y="4.500" width="3.400" height="1.000" fill="#fff"/><rect x="2.000" y="-10.033" width="1.000" height="3.400" fill="#fff"/><rect x="0.800" y="-8.833" width="3.400" height="1.000" fill="#fff"/><rect x="2.000" y="16.633" width="1.000" height="3.400" fill="#fff"/><rect x="0.800" y="17.833" width="3.400" height="1.000" fill="#fff"/><rect x="-11.333" y="3.300" width="1.000" height="3.400" fill="#fff"/><rect x="-12.533" y="4.500" width="3.400" height="1.000" fill="#fff"/><rect x="-11.333" y="-10.033" width="1.000" height="3.400" fill="#fff"/><rect x="-12.533" y="-8.833" width="3.400" height="1.000" fill="#fff"/><rect x="-11.333" y="16.633" width="1.000" height="3.400" fill="#fff"/><rect x="-12.533" y="17.833" width="3.400" height="1.000" fill="#fff"/><rect x="15.333" y="3.300" width="1.000" height="3.400" fill="#fff"/><rect x="14.133" y="4.500" width="3.400" height="1.000" fill="#fff"/><rect x="15.333" y="-10.033" width="1.000" height="3.400" fill="#fff"/><rect x="14.133" y="-8.833" width="3.400" height="1.000" fill="#fff"/><rect x="15.333" y="16.633" width="1.000" height="3.400" fill="#fff"/><rect x="14.133" y="17.833" width="3.400" height="1.000" fill="#fff"/><rect x="8.667" y="9.967" width="1.000" height="3.400" fill="#fff"/><rect x="7.467" y="11.167" width="3.400" height="1.000" fill="#fff"/><rect x="8.667" y="-3.367" width="1.000" height="3.400" fill="#fff"/><rect x="7.467" y="-2.167" width="3.400" height="1.000" fill="#fff"/><rect x="8.667" y="23.300" width="1.000" height="3.400" fill="#fff"/><rect x="7.467" y="24.500" width="3.400" height="1.000" fill="#fff"/><rect x="-4.667" y="9.967" width="1.000" height="3.400" fill="#fff"/><rect x="-5.867" y="11.167" width="3.400" height="1.000" fill="#fff"/><rect x="-4.667" y="-3.367" width="1.000" height="3.400" fill="#fff"/><rect x="-5.867" y="-2.167" width="3.400" height="1.000" fill="#fff"/><rect x="-4.667" y="23.300" width="1.000" height="3.400" fill="#fff"/><rect x="-5.867" y="24.500" width="3.400" height="1.000" fill="#fff"/><rect x="22.000" y="9.967" width="1.000" height="3.400" fill="#fff"/><rect x="20.800" y="11.167" width="3.400" height="1.000" fill="#fff"/><rect x="22.000" y="-3.367" width="1.000" height="3.400" fill="#fff"/><rect x="20.800" y="-2.167" width="3.400" height="1.000" fill="#fff"/><rect x="22.000" y="23.300" width="1.000" height="3.400" fill="#fff"/><rect x="20.800" y="24.500" width="3.400" height="1.000" fill="#fff"/></pattern>
<pattern id="p5_5" patternUnits="userSpaceOnUse" width="13.3334" height="13.3334" x="6.350" y="-0.6"><rect x="0.000" y="0.000" width="13.333" height="13.333" fill="#000"/><rect x="0.383" y="7.150" width="5.300" height="5.300" fill="#fff"/><rect x="7.050" y="0.483" width="5.300" height="5.300" fill="#fff"/><circle cx="-0.150" cy="6.567" r="0.75" fill="#eee"/><circle cx="6.517" cy="6.567" r="0.75" fill="#eee"/><circle cx="-0.150" cy="13.233" r="0.75" fill="#eee"/><circle cx="6.517" cy="13.233" r="0.75" fill="#eee"/><circle cx="13.183" cy="6.567" r="0.75" fill="#eee"/><circle cx="13.183" cy="13.233" r="0.75" fill="#eee"/><circle cx="6.517" cy="-0.100" r="0.75" fill="#eee"/><circle cx="13.183" cy="-0.100" r="0.75" fill="#eee"/><circle cx="-0.150" cy="-0.100" r="0.75" fill="#eee"/><circle cx="3.133" cy="3.133" r="2.75" fill="none" stroke="#8a8a8a" stroke-width="0.5"/><rect x="2.033" y="1.433" width="2.400" height="0.900" fill="#aaa" rx="0.45"/><circle cx="9.800" cy="9.800" r="2.75" fill="none" stroke="#8a8a8a" stroke-width="0.5"/><rect x="8.700" y="8.100" width="2.400" height="0.900" fill="#aaa" rx="0.45"/></pattern>
<pattern id="p2_5" patternUnits="userSpaceOnUse" width="13.3333" height="3.33333" y="0.6">
<rect width="13.3333" height="3.33333" fill="#000"/>
<rect y="1.0" width="13.3333" height="1.8" fill="#fff"/>
</pattern>
<pattern id="p3_5" patternUnits="userSpaceOnUse" width="13.3333" height="6.66667" x="5.850">
<rect width="13.3333" height="6.66667" fill="#000"/>
<rect x="10.52" y="0.12" width="1.7" height="1.7" rx="0.6" fill="#fff"/>
<rect x="3.85" y="3.45" width="1.7" height="1.7" rx="0.6" fill="#fff"/>
</pattern>
<pattern id="p4_5" patternUnits="userSpaceOnUse" width="6.66667" height="6.66667" x="8.950">
<rect width="6.66667" height="6.66667" fill="#000"/>
<path d="M-2,-2 L8.67,8.67 M-8.67,-2 L2,8.67 M4.67,-2 L15.33,8.67" stroke="#fff" stroke-width="2.36"/>
</pattern>
<pattern id="p6_5" patternUnits="userSpaceOnUse" width="6.66667" height="3.33333" x="5.850">
<rect width="6.66667" height="3.33333" fill="#000"/>
<rect x="0.5" y="0.3" width="2.0" height="2.0" rx="0.7" fill="#f0f0f0"/>
<rect x="3.83" y="-1.37" width="2.0" height="2.0" rx="0.7" fill="#f0f0f0"/>
<rect x="3.83" y="1.97" width="2.0" height="2.0" rx="0.7" fill="#f0f0f0"/>
</pattern>
<pattern id="p1_6" patternUnits="userSpaceOnUse" width="13.3334" height="13.3334" x="2.000" y="-1.500"><rect x="0.000" y="0.000" width="13.333" height="13.333" fill="#d8d8d8"/><rect x="0.000" y="0.000" width="1.667" height="1.667" fill="#222"/><rect x="3.333" y="0.000" width="1.667" height="1.667" fill="#222"/><rect x="6.667" y="0.000" width="1.667" height="1.667" fill="#222"/><rect x="10.000" y="0.000" width="1.667" height="1.667" fill="#222"/><rect x="1.667" y="1.667" width="1.667" height="1.667" fill="#222"/><rect x="5.000" y="1.667" width="1.667" height="1.667" fill="#222"/><rect x="8.333" y="1.667" width="1.667" height="1.667" fill="#222"/><rect x="11.667" y="1.667" width="1.667" height="1.667" fill="#222"/><rect x="0.000" y="3.333" width="1.667" height="1.667" fill="#222"/><rect x="3.333" y="3.333" width="1.667" height="1.667" fill="#222"/><rect x="6.667" y="3.333" width="1.667" height="1.667" fill="#222"/><rect x="10.000" y="3.333" width="1.667" height="1.667" fill="#222"/><rect x="1.667" y="5.000" width="1.667" height="1.667" fill="#222"/><rect x="5.000" y="5.000" width="1.667" height="1.667" fill="#222"/><rect x="8.333" y="5.000" width="1.667" height="1.667" fill="#222"/><rect x="11.667" y="5.000" width="1.667" height="1.667" fill="#222"/><rect x="0.000" y="6.667" width="1.667" height="1.667" fill="#222"/><rect x="3.333" y="6.667" width="1.667" height="1.667" fill="#222"/><rect x="6.667" y="6.667" width="1.667" height="1.667" fill="#222"/><rect x="10.000" y="6.667" width="1.667" height="1.667" fill="#222"/><rect x="1.667" y="8.333" width="1.667" height="1.667" fill="#222"/><rect x="5.000" y="8.333" width="1.667" height="1.667" fill="#222"/><rect x="8.333" y="8.333" width="1.667" height="1.667" fill="#222"/><rect x="11.667" y="8.333" width="1.667" height="1.667" fill="#222"/><rect x="0.000" y="10.000" width="1.667" height="1.667" fill="#222"/><rect x="3.333" y="10.000" width="1.667" height="1.667" fill="#222"/><rect x="6.667" y="10.000" width="1.667" height="1.667" fill="#222"/><rect x="10.000" y="10.000" width="1.667" height="1.667" fill="#222"/><rect x="1.667" y="11.667" width="1.667" height="1.667" fill="#222"/><rect x="5.000" y="11.667" width="1.667" height="1.667" fill="#222"/><rect x="8.333" y="11.667" width="1.667" height="1.667" fill="#222"/><rect x="11.667" y="11.667" width="1.667" height="1.667" fill="#222"/><rect x="2.000" y="3.300" width="1.000" height="3.400" fill="#fff"/><rect x="0.800" y="4.500" width="3.400" height="1.000" fill="#fff"/><rect x="2.000" y="-10.033" width="1.000" height="3.400" fill="#fff"/><rect x="0.800" y="-8.833" width="3.400" height="1.000" fill="#fff"/><rect x="2.000" y="16.633" width="1.000" height="3.400" fill="#fff"/><rect x="0.800" y="17.833" width="3.400" height="1.000" fill="#fff"/><rect x="-11.333" y="3.300" width="1.000" height="3.400" fill="#fff"/><rect x="-12.533" y="4.500" width="3.400" height="1.000" fill="#fff"/><rect x="-11.333" y="-10.033" width="1.000" height="3.400" fill="#fff"/><rect x="-12.533" y="-8.833" width="3.400" height="1.000" fill="#fff"/><rect x="-11.333" y="16.633" width="1.000" height="3.400" fill="#fff"/><rect x="-12.533" y="17.833" width="3.400" height="1.000" fill="#fff"/><rect x="15.333" y="3.300" width="1.000" height="3.400" fill="#fff"/><rect x="14.133" y="4.500" width="3.400" height="1.000" fill="#fff"/><rect x="15.333" y="-10.033" width="1.000" height="3.400" fill="#fff"/><rect x="14.133" y="-8.833" width="3.400" height="1.000" fill="#fff"/><rect x="15.333" y="16.633" width="1.000" height="3.400" fill="#fff"/><rect x="14.133" y="17.833" width="3.400" height="1.000" fill="#fff"/><rect x="8.667" y="9.967" width="1.000" height="3.400" fill="#fff"/><rect x="7.467" y="11.167" width="3.400" height="1.000" fill="#fff"/><rect x="8.667" y="-3.367" width="1.000" height="3.400" fill="#fff"/><rect x="7.467" y="-2.167" width="3.400" height="1.000" fill="#fff"/><rect x="8.667" y="23.300" width="1.000" height="3.400" fill="#fff"/><rect x="7.467" y="24.500" width="3.400" height="1.000" fill="#fff"/><rect x="-4.667" y="9.967" width="1.000" height="3.400" fill="#fff"/><rect x="-5.867" y="11.167" width="3.400" height="1.000" fill="#fff"/><rect x="-4.667" y="-3.367" width="1.000" height="3.400" fill="#fff"/><rect x="-5.867" y="-2.167" width="3.400" height="1.000" fill="#fff"/><rect x="-4.667" y="23.300" width="1.000" height="3.400" fill="#fff"/><rect x="-5.867" y="24.500" width="3.400" height="1.000" fill="#fff"/><rect x="22.000" y="9.967" width="1.000" height="3.400" fill="#fff"/><rect x="20.800" y="11.167" width="3.400" height="1.000" fill="#fff"/><rect x="22.000" y="-3.367" width="1.000" height="3.400" fill="#fff"/><rect x="20.800" y="-2.167" width="3.400" height="1.000" fill="#fff"/><rect x="22.000" y="23.300" width="1.000" height="3.400" fill="#fff"/><rect x="20.800" y="24.500" width="3.400" height="1.000" fill="#fff"/></pattern>
<pattern id="p5_6" patternUnits="userSpaceOnUse" width="13.3334" height="13.3334" x="0.500" y="-0.6"><rect x="0.000" y="0.000" width="13.333" height="13.333" fill="#000"/><rect x="0.383" y="7.150" width="5.300" height="5.300" fill="#fff"/><rect x="7.050" y="0.483" width="5.300" height="5.300" fill="#fff"/><circle cx="-0.150" cy="6.567" r="0.75" fill="#eee"/><circle cx="6.517" cy="6.567" r="0.75" fill="#eee"/><circle cx="-0.150" cy="13.233" r="0.75" fill="#eee"/><circle cx="6.517" cy="13.233" r="0.75" fill="#eee"/><circle cx="13.183" cy="6.567" r="0.75" fill="#eee"/><circle cx="13.183" cy="13.233" r="0.75" fill="#eee"/><circle cx="6.517" cy="-0.100" r="0.75" fill="#eee"/><circle cx="13.183" cy="-0.100" r="0.75" fill="#eee"/><circle cx="-0.150" cy="-0.100" r="0.75" fill="#eee"/><circle cx="3.133" cy="3.133" r="2.75" fill="none" stroke="#8a8a8a" stroke-width="0.5"/><rect x="2.033" y="1.433" width="2.400" height="0.900" fill="#aaa" rx="0.45"/><circle cx="9.800" cy="9.800" r="2.75" fill="none" stroke="#8a8a8a" stroke-width="0.5"/><rect x="8.700" y="8.100" width="2.400" height="0.900" fill="#aaa" rx="0.45"/></pattern>
<pattern id="p2_6" patternUnits="userSpaceOnUse" width="13.3333" height="3.33333" y="0.6">
<rect width="13.3333" height="3.33333" fill="#000"/>
<rect y="1.0" width="13.3333" height="1.8" fill="#fff"/>
</pattern>
<pattern id="p3_6" patternUnits="userSpaceOnUse" width="13.3333" height="6.66667" x="0.000">
<rect width="13.3333" height="6.66667" fill="#000"/>
<rect x="10.52" y="0.12" width="1.7" height="1.7" rx="0.6" fill="#fff"/>
<rect x="3.85" y="3.45" width="1.7" height="1.7" rx="0.6" fill="#fff"/>
</pattern>
<pattern id="p4_6" patternUnits="userSpaceOnUse" width="6.66667" height="6.66667" x="6.400">
<rect width="6.66667" height="6.66667" fill="#000"/>
<path d="M-2,-2 L8.67,8.67 M-8.67,-2 L2,8.67 M4.67,-2 L15.33,8.67" stroke="#fff" stroke-width="2.36"/>
</pattern>
<pattern id="p6_6" patternUnits="userSpaceOnUse" width="6.66667" height="3.33333" x="0.000">
<rect width="6.66667" height="3.33333" fill="#000"/>
<rect x="0.5" y="0.3" width="2.0" height="2.0" rx="0.7" fill="#aaa"/>
<rect x="3.83" y="-1.37" width="2.0" height="2.0" rx="0.7" fill="#aaa"/>
<rect x="3.83" y="1.97" width="2.0" height="2.0" rx="0.7" fill="#aaa"/>
</pattern>
</defs>

<rect x="110" y="13.1" width="554.8" height="287.65" fill="none" stroke="#d9d9d9" stroke-width="1.3"/>
<text x="92.6" y="307.75" text-anchor="end" font-size="20">97</text>
<line x1="110" x2="664.8" y1="252.95" y2="252.95" stroke="#d9d9d9" stroke-width="1.3"/>
<text x="92.6" y="259.95" text-anchor="end" font-size="20">98</text>
<line x1="110" x2="664.8" y1="205.00" y2="205.00" stroke="#d9d9d9" stroke-width="1.3"/>
<text x="92.6" y="212.00" text-anchor="end" font-size="20">98</text>
<line x1="110" x2="664.8" y1="157.05" y2="157.05" stroke="#d9d9d9" stroke-width="1.3"/>
<text x="92.6" y="164.05" text-anchor="end" font-size="20">99</text>
<line x1="110" x2="664.8" y1="109.10" y2="109.10" stroke="#d9d9d9" stroke-width="1.3"/>
<text x="92.6" y="116.10" text-anchor="end" font-size="20">99</text>
<line x1="110" x2="664.8" y1="61.15" y2="61.15" stroke="#d9d9d9" stroke-width="1.3"/>
<text x="92.6" y="68.15" text-anchor="end" font-size="20">100</text>
<text x="92.6" y="20.10" text-anchor="end" font-size="20">100</text>
<rect x="118.80" y="143.10" width="12.40" height="158.45" fill="url(#p1_0)" stroke="#000" stroke-width="1.6"/>
<rect x="131.20" y="138.30" width="12.40" height="163.25" fill="url(#p2_0)" stroke="#000" stroke-width="1.6"/>
<rect x="143.60" y="135.10" width="12.40" height="166.45" fill="url(#p3_0)" stroke="#000" stroke-width="1.6"/>
<rect x="156.00" y="121.80" width="12.40" height="179.75" fill="url(#p4_0)" stroke="#000" stroke-width="1.6"/>
<rect x="168.40" y="116.30" width="12.40" height="185.25" fill="url(#p5_0)" stroke="#000" stroke-width="1.6"/>
<rect x="180.80" y="117.10" width="12.40" height="184.45" fill="url(#p6_0)" stroke="#000" stroke-width="1.6"/>
<rect x="211.24" y="119.70" width="12.40" height="181.85" fill="url(#p1_1)" stroke="#000" stroke-width="1.6"/>
<rect x="223.64" y="109.40" width="12.40" height="192.15" fill="url(#p2_1)" stroke="#000" stroke-width="1.6"/>
<rect x="236.04" y="132.00" width="12.40" height="169.55" fill="url(#p3_1)" stroke="#000" stroke-width="1.6"/>
<rect x="248.44" y="97.70" width="12.40" height="203.85" fill="url(#p4_1)" stroke="#000" stroke-width="1.6"/>
<rect x="260.84" y="124.00" width="12.40" height="177.55" fill="url(#p5_1)" stroke="#000" stroke-width="1.6"/>
<rect x="273.24" y="135.20" width="12.40" height="166.35" fill="url(#p6_1)" stroke="#000" stroke-width="1.6"/>
<rect x="303.68" y="90.10" width="12.40" height="211.45" fill="url(#p1_2)" stroke="#000" stroke-width="1.6"/>
<rect x="316.08" y="85.30" width="12.40" height="216.25" fill="url(#p2_2)" stroke="#000" stroke-width="1.6"/>
<rect x="328.48" y="96.80" width="12.40" height="204.75" fill="url(#p3_2)" stroke="#000" stroke-width="1.6"/>
<rect x="340.88" y="93.10" width="12.40" height="208.45" fill="url(#p4_2)" stroke="#000" stroke-width="1.6"/>
<rect x="353.28" y="62.10" width="12.40" height="239.45" fill="url(#p5_2)" stroke="#000" stroke-width="1.6"/>
<rect x="365.68" y="119.80" width="12.40" height="181.75" fill="url(#p6_2)" stroke="#000" stroke-width="1.6"/>
<rect x="396.12" y="55.70" width="12.40" height="245.85" fill="url(#p1_3)" stroke="#000" stroke-width="1.6"/>
<rect x="408.52" y="100.10" width="12.40" height="201.45" fill="url(#p2_3)" stroke="#000" stroke-width="1.6"/>
<rect x="420.92" y="111.80" width="12.40" height="189.75" fill="url(#p3_3)" stroke="#000" stroke-width="1.6"/>
<rect x="433.32" y="133.80" width="12.40" height="167.75" fill="url(#p4_3)" stroke="#000" stroke-width="1.6"/>
<rect x="445.72" y="132.60" width="12.40" height="168.95" fill="url(#p5_3)" stroke="#000" stroke-width="1.6"/>
<rect x="458.12" y="127.00" width="12.40" height="174.55" fill="url(#p6_3)" stroke="#000" stroke-width="1.6"/>
<rect x="488.56" y="73.30" width="12.40" height="228.25" fill="url(#p1_4)" stroke="#000" stroke-width="1.6"/>
<rect x="500.96" y="116.90" width="12.40" height="184.65" fill="url(#p2_4)" stroke="#000" stroke-width="1.6"/>
<rect x="513.36" y="113.10" width="12.40" height="188.45" fill="url(#p3_4)" stroke="#000" stroke-width="1.6"/>
<rect x="525.76" y="169.10" width="12.40" height="132.45" fill="url(#p4_4)" stroke="#000" stroke-width="1.6"/>
<rect x="538.16" y="180.00" width="12.40" height="121.55" fill="url(#p5_4)" stroke="#000" stroke-width="1.6"/>
<rect x="550.56" y="145.00" width="12.40" height="156.55" fill="url(#p6_4)" stroke="#000" stroke-width="1.6"/>
<rect x="581.00" y="105.50" width="12.40" height="196.05" fill="url(#p1_5)" stroke="#000" stroke-width="1.6"/>
<rect x="593.40" y="145.80" width="12.40" height="155.75" fill="url(#p2_5)" stroke="#000" stroke-width="1.6"/>
<rect x="605.80" y="123.00" width="12.40" height="178.55" fill="url(#p3_5)" stroke="#000" stroke-width="1.6"/>
<rect x="618.20" y="186.00" width="12.40" height="115.55" fill="url(#p4_5)" stroke="#000" stroke-width="1.6"/>
<rect x="630.60" y="186.90" width="12.40" height="114.65" fill="url(#p5_5)" stroke="#000" stroke-width="1.6"/>
<rect x="643.00" y="202.30" width="12.40" height="99.25" fill="url(#p6_5)" stroke="#000" stroke-width="1.6"/>
<rect x="108" y="301.45" width="558.8" height="4" fill="#fff"/>
<line x1="109.35" x2="665.4499999999999" y1="300.75" y2="300.75" stroke="#d9d9d9" stroke-width="1.5"/>
<text x="156.25" y="332.1" text-anchor="middle" font-size="20">0</text>
<text x="248.75" y="332.1" text-anchor="middle" font-size="20">3</text>
<text x="341.25" y="332.1" text-anchor="middle" font-size="20">6</text>
<text x="433.75" y="332.1" text-anchor="middle" font-size="20">9</text>
<text x="526.25" y="332.1" text-anchor="middle" font-size="20">12</text>
<text x="618.75" y="332.1" text-anchor="middle" font-size="20">15</text>
<text x="368.2" y="344" text-anchor="middle" font-size="20" font-weight="bold">Storage time (day)</text>
<text transform="translate(53.3,157) rotate(-90)" text-anchor="middle" font-size="20" font-weight="bold">Water content (%)</text>
<g transform="translate(126,361.2)"><rect x="1" y="1" width="9.6" height="9.6" fill="url(#p1_6)" stroke="#000" stroke-width="2"/></g>
<text transform="translate(140.60,373.80) scale(1,1.045)" font-size="19.9">control</text>
<g transform="translate(310.2,361.2)"><rect x="0.75" y="0.75" width="9.6" height="9.6" fill="url(#p2_6)" stroke="#000" stroke-width="1.5"/></g>
<text transform="translate(324.80,373.80) scale(1,1.045)" font-size="19.9">citric acid</text>
<g transform="translate(494.2,361.2)"><rect x="0.75" y="0.75" width="9.6" height="9.6" fill="url(#p3_6)" stroke="#000" stroke-width="1.5"/></g>
<text transform="translate(508.80,373.80) scale(1,1.045)" font-size="19.9">ascorbic acid</text>
<g transform="translate(126,381.2)"><rect x="0.75" y="0.75" width="9.6" height="9.6" fill="url(#p4_6)" stroke="#000" stroke-width="1.5"/></g>
<text transform="translate(140.60,393.80) scale(1,1.045)" font-size="19.9">potassium sorbat</text>
<g transform="translate(310.2,381.2)"><rect x="0.75" y="0.75" width="9.6" height="9.6" fill="url(#p5_6)" stroke="#000" stroke-width="1.5"/></g>
<text transform="translate(324.80,393.80) scale(1,1.045)" font-size="19.9">calcium chloride</text>
<g transform="translate(493.2,380.2)"><rect x="1" y="1" width="10.9" height="10.4" rx="1" fill="url(#p6_6)" stroke="#000" stroke-width="2"/></g>
<text transform="translate(508.80,393.80) scale(1,1.045)" font-size="19.9">sorbitol</text>
</svg></body></html>
